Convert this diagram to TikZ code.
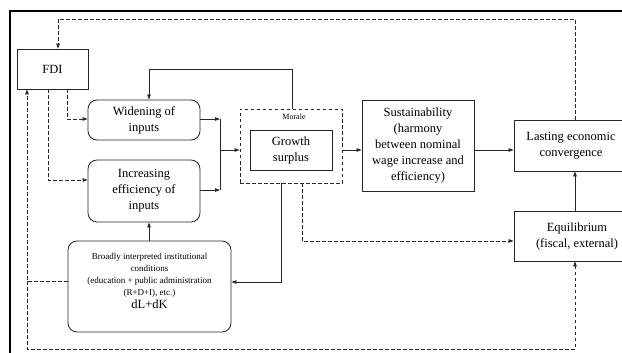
\documentclass[tikz,border=0pt]{standalone}
\usepackage{fontspec}
\setmainfont{Liberation Serif}
\usetikzlibrary{arrows.meta}
\begin{document}
\begin{tikzpicture}[x=1pt,y=-1pt,
  box/.style={draw=black!85, line width=0.8pt, align=center, inner sep=0pt, font=\fontsize{12.5}{16}\selectfont},
  rbox/.style={box, rounded corners=9pt},
  arr/.style={draw=black!85, line width=0.8pt, -{Triangle[length=5pt,width=3.5pt]}},
  plain/.style={draw=black!85, line width=0.8pt},
  dsh/.style={arr, dash pattern=on 3.5pt off 2.5pt},
  dbox/.style={draw=black!85, line width=0.8pt, dash pattern=on 3.5pt off 2.5pt}]
\clip (0,0) rectangle (622,353);
\draw[line width=2pt] (10,353) -- (10,11) -- (622,11);

\node[box, minimum width=71pt, minimum height=40pt] (fdi) at (52.5,69) {FDI};
\node[rbox, minimum width=112pt, minimum height=40pt] (wid) at (144,120) {Widening of\\inputs};
\node[rbox, minimum width=112pt, minimum height=62pt] (inc) at (144,191) {Increasing\\efficiency of\\inputs};
\node[rbox, minimum width=163pt, minimum height=91pt] (brd) at (149.5,286.5) {};
\node[align=center, inner sep=0pt, font=\fontsize{9}{11.8}\selectfont] (brdtxt) at ([yshift=5.5pt]brd.center)
  {Broadly interpreted institutional\\conditions\\(education + public administration\\(R+D+I), etc.)\\[1pt]{\fontsize{12.5}{15}\selectfont dL+dK}};
\node[dbox, minimum width=102pt, minimum height=74pt] (mor) at (291,146) {};
\node[font=\fontsize{8}{9}\selectfont, inner sep=0pt] (mlab) at (294,117) {Morale};
\node[box, minimum width=82pt, minimum height=40pt] (gro) at (291,150) {Growth\\surplus};
\node[box, minimum width=112pt, minimum height=91pt] (sus) at (418,145.5) {Sustainability\\(harmony\\between nominal\\wage increase and\\efficiency)};
\node[box, minimum width=114pt, minimum height=51pt] (last) at (571,145.5) {Lasting economic\\convergence};
\node[box, minimum width=126pt, minimum height=50pt] (eq) at (577,236) {Equilibrium\\(fiscal, external)};

\coordinate (t1) at (575,19);
\coordinate (t2) at (58,19);
\coordinate (c67) at (67,119);
\coordinate (j2) at (48,180);
\coordinate (j3) at (27,281);
\coordinate (j4) at (27,349);
\coordinate (j5) at (575,349);
\coordinate (b1) at (220,119);
\coordinate (b2) at (220,190);
\coordinate (b3) at (220,150);
\coordinate (u1) at (292,69);
\coordinate (u2) at (149,69);
\coordinate (d1) at (281,282);
\coordinate (d2) at (302,241);

\draw[dsh] (last.north -| t1) -- (t1) -- (t2) -- (fdi.north -| t2);
\draw[dsh] (fdi.south -| c67) -- (c67) -- (c67 -| wid.west);
\draw[dsh] (fdi.south -| j2) -- (j2) -- (j2 -| inc.west);
\draw[dsh] (brd.west |- j3) -- (j3) -- (fdi.south -| j3);
\draw[dsh] (j3) -- (j4) -- (j5) -- (eq.south -| j5);

\draw[arr] (b1 -| wid.east) -- (b1);
\draw[arr] (b2 -| inc.east) -- (b2);
\draw[plain] (b1) -- (b2);
\draw[arr] (b3) -- (b3 -| mor.west);
\draw[arr] (mor.north -| u1) -- (u1) -- (u2) -- (wid.north -| u2);
\draw[arr] (mor.east |- b3) -- (sus.west |- b3);
\draw[arr] (sus.east |- b3) -- (last.west |- b3);
\draw[arr] (eq.north -| j5) -- (last.south -| j5);
\draw[arr] (mor.south -| d1) -- (d1) -- (d1 -| brd.east);
\draw[dsh] (mor.south -| d2) -- (d2) -- (d2 -| eq.west);
\draw[arr] (brd.north -| u2) -- (inc.south -| u2);
\end{tikzpicture}
\end{document}
